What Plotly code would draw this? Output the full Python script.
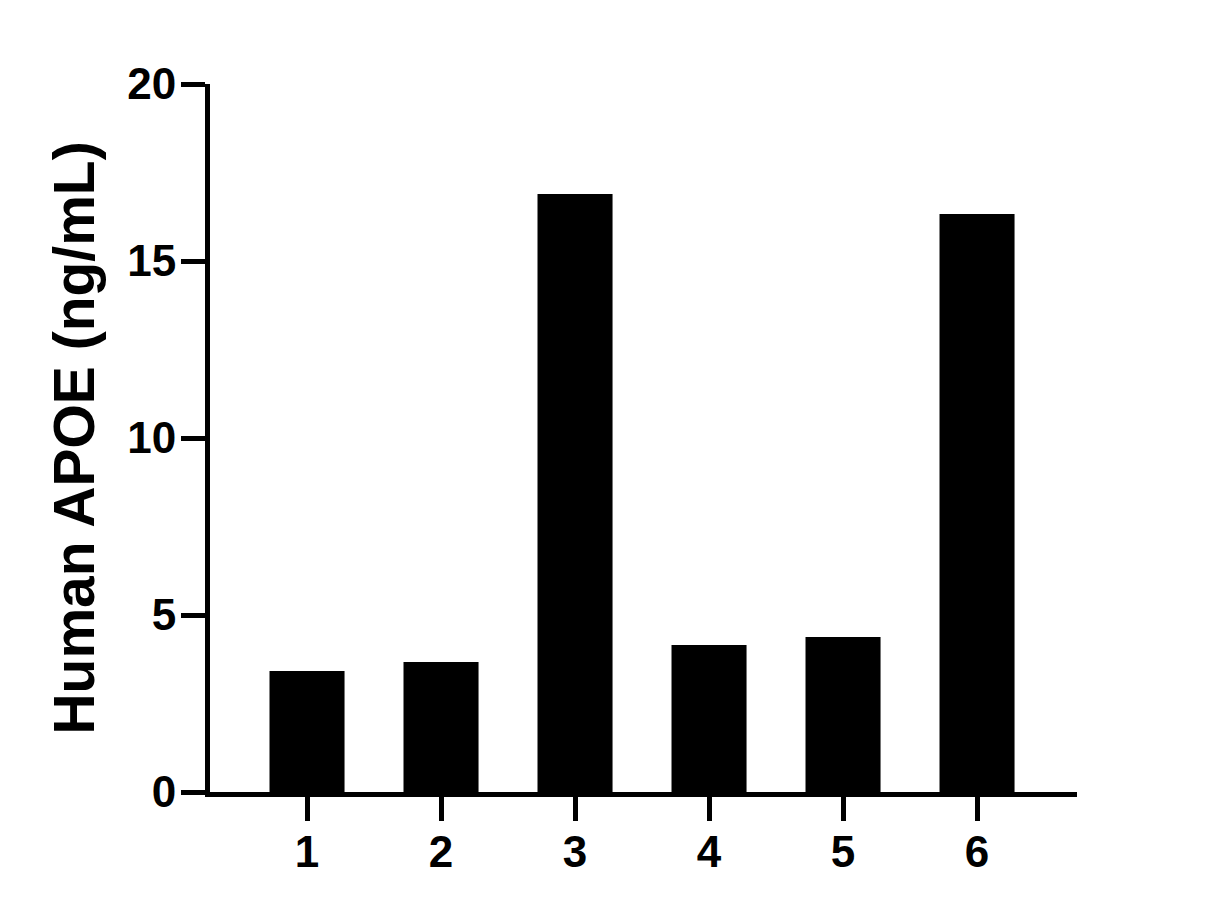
import plotly.graph_objects as go

# sample numbers on the x axis and measured APOE levels
samples = [1, 2, 3, 4, 5, 6]
apoe_ng_ml = [3.42, 3.67, 16.89, 4.15, 4.38, 16.33]
y_ticks = [0, 5, 10, 15, 20]

fig = go.Figure(
    go.Bar(
        x=samples,
        y=apoe_ng_ml,
        width=0.56,
        marker=dict(color="black", line=dict(width=0)),
    )
)

# page body adds an 8px margin, so the figure is 16px smaller and margins shifted
fig.update_layout(
    width=1211,
    height=903,
    margin=dict(l=202, r=142, t=76, b=119),
    plot_bgcolor="white",
    paper_bgcolor="white",
    showlegend=False,
    font=dict(family="Liberation Sans, Arial, sans-serif", color="black"),
    xaxis=dict(
        range=[0.276, 6.746],
        tickvals=samples,
        ticks="outside",
        ticklen=24,
        tickwidth=5,
        tickcolor="black",
        ticklabelstandoff=-7,
        showline=True,
        linewidth=5,
        linecolor="black",
        showgrid=False,
        zeroline=False,
        tickfont=dict(size=44, weight="bold"),
    ),
    yaxis=dict(
        range=[0, 20],
        tickvals=y_ticks,
        ticks="outside",
        ticklen=24,
        tickwidth=5,
        tickcolor="black",
        ticklabelstandoff=-4,
        showline=True,
        linewidth=5,
        linecolor="black",
        showgrid=False,
        zeroline=False,
        tickfont=dict(size=44, weight="bold"),
        title=dict(
            text="Human APOE (ng/mL)",
            font=dict(size=57, weight="bold"),
            standoff=16,
        ),
    ),
)

fig.write_html("out.html")
